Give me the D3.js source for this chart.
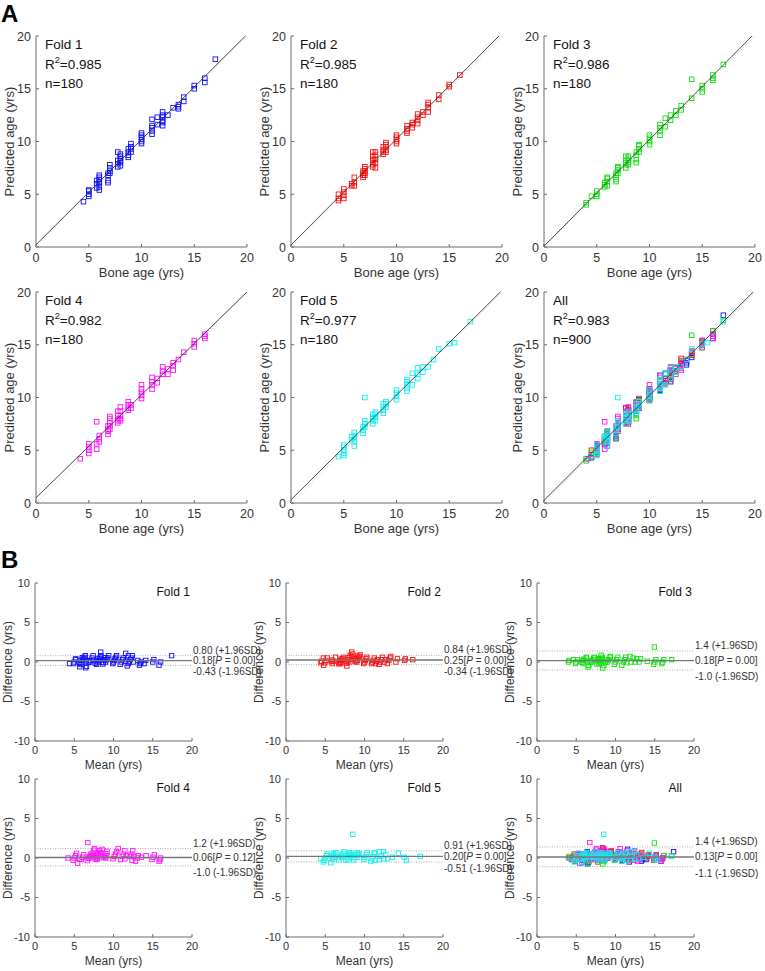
<!DOCTYPE html>
<html><head><meta charset="utf-8">
<script src="https://cdn.jsdelivr.net/npm/d3@7"></script>
<style>body{margin:0;background:#fff}svg{font-family:"Liberation Sans",Arial,Helvetica,sans-serif}</style>
</head><body><svg id="c" width="765" height="971"></svg>
<script>
// ---------- data ----------
const panelNames = ["Fold 1","Fold 2","Fold 3","Fold 4","Fold 5","All"];
const foldColors = ["#1010ff","#ff1010","#10e010","#ff10ff","#10f0f0"];
const r2Values = ["0.985","0.985","0.986","0.982","0.977","0.983"];
const nValues = [180,180,180,180,180,900];
const ticksA = [0,5,10,15,20];
const ticksBx = [0,5,10,15,20];
const ticksBy = [-10,-5,0,5,10];
// Bland-Altman statistics (upper LoA, mean, lower LoA)
const baUpper = [0.80,0.84,1.4,1.2,0.91,1.4];
const baMean  = [0.18,0.25,0.18,0.06,0.20,0.13];
const baLower = [-0.43,-0.34,-1.0,-1.0,-0.51,-1.1];
const baUpperText = ["0.80","0.84","1.4","1.2","0.91","1.4"];
const baMeanText  = ["0.18","0.25","0.18","0.06","0.20","0.13"];
const baLowerText = ["-0.43","-0.34","-1.0","-1.0","-0.51","-1.1"];
const baPText = ["0.00","0.00","0.00","0.12","0.00","0.00"];

// [bone age, [predicted ages]]
const fold1 = [[4.5,[4.3]],[5,[4.8,5.0,5.3,5.4]],[5.75,[5.6,6.0,6.3]],
 [6,[5.4,5.7,6.0,6.2,6.4,6.6,6.8]],[6.83,[6.1,6.3,6.8,7.0]],[7,[7.0,7.2,7.5,7.8]],
 [7.75,[7.6,7.9,8.2,9.0]],[8,[7.7,8.0,8.2,8.4,8.6,8.8]],[8.75,[8.5,8.7,9.0,9.3]],
 [9,[9.0,9.3,9.5,9.8]],[10,[9.8,10.0,10.2,10.4,10.6,10.8]],[11,[10.7,11.0,11.3,11.5,12.1]],
 [11.5,[11.6,12.3]],[12,[11.5,11.8,12.0,12.3,12.5,12.8]],[12.5,[12.5]],[13,[13.2]],
 [13.5,[13.1,13.3,13.5]],[14,[13.8,14.2]],[15,[15.0,15.3]],[16,[15.6,16.0]],[17,[17.8]]];
const fold2 = [[4.5,[4.4,4.6,5.0]],[5,[4.6,4.9,5.2,5.5]],[5.75,[5.8,6.0]],[6,[5.8,6.1,6.6]],
 [6.83,[6.6,6.8,7.0,7.2]],[7,[6.8,7.0,7.2,7.4,7.6]],[7.75,[7.6,7.8,8.0,8.3,8.6,9.0]],
 [8,[7.5,8.0,8.3,8.7,9.0]],[8.75,[8.8,9.0,9.2,9.5]],[9,[9.0,9.2,9.5,9.7,9.9]],
 [10,[9.8,10.0,10.2,10.4,10.6]],[11,[10.8,11.0,11.2,11.5]],[11.5,[11.3,11.6,11.8]],
 [12,[11.7,12.0,12.3,12.6]],[12.5,[12.5,12.8]],[13,[12.8,13.2,13.5,13.7]],
 [14,[14.0,14.4]],[15,[15.2,15.4]],[16,[16.3]]];
const fold3 = [[4,[4.0,4.2]],[4.5,[4.8]],[5,[4.8,5.0,5.3]],[5.75,[5.7,5.9,6.1]],
 [6,[5.8,6.2,6.5,6.6]],[6.83,[6.2,6.4,6.8,7.0]],[7,[7.0,7.3,7.5,7.6]],
 [7.75,[7.5,7.8,8.0,8.2,8.6]],[8,[7.8,8.0,8.2,8.4,8.6]],[8.75,[8.0,8.3,8.7,9.0]],
 [9,[9.0,9.3,9.6,9.7]],[10,[9.7,10.0,10.3,10.6]],[11,[10.6,11.0,11.3,11.6]],
 [11.5,[11.4,12.2]],[12,[12.0,12.5]],[12.5,[12.5,12.9]],[13,[13.0,13.4]],
 [14,[14.1,15.9]],[15,[14.7,15.0,15.3]],[16,[15.8,16.0,16.3]],[17,[17.3]]];
const fold4 = [[4.2,[4.2]],[5,[4.7,5.0,5.3,5.6]],[5.75,[5.1,5.6,7.7]],[6,[5.8,6.1,6.4]],
 [6.83,[6.5,6.8,7.0,7.3]],[7,[7.0,7.3,7.6,8.0,8.2]],[7.75,[7.6,7.8,8.0,8.3,8.7]],
 [8,[7.8,8.0,8.3,8.7,9.1]],[8.75,[8.8,9.0,9.3,9.6]],[9,[9.0,9.3]],
 [10,[9.9,10.2,10.5,10.8,11.2]],[11,[10.8,11.2,11.5,11.9]],[11.5,[11.4,11.8]],
 [12,[12.2,12.5,12.9]],[12.5,[12.2,12.7]],[13,[12.6,13.0,13.3]],[13.5,[13.6]],
 [14,[14.3]],[15,[14.8,15.1,15.4]],[16,[15.6,15.8,16.0]]];
const fold5 = [[4.5,[4.4]],[5,[4.5,4.7,5.0,5.3,5.5]],[5.75,[6.0,6.3]],[6,[5.4,5.8,6.1,6.4,6.7]],
 [6.83,[6.6,6.9,7.2]],[7,[7.2,7.5,7.8,10.0]],[7.75,[7.5,7.8,8.1,8.4]],[8,[7.8,8.1,8.4,8.6]],
 [8.75,[8.5,8.8,9.1,9.4]],[9,[9.1,9.4,9.6]],[10,[9.8,10.1,10.4,10.7]],
 [11,[10.6,10.9,11.2,11.5,11.7]],[11.5,[11.2,12.3]],[12,[11.8,12.2,12.8]],
 [12.5,[12.4,12.9]],[13,[12.9]],[13.5,[13.6]],[14,[14.6]],[15,[15.1]],[15.5,[15.2]],[17,[17.2]]];
const folds = [fold1, fold2, fold3, fold4, fold5];

// ---------- layout ----------
const svg = d3.select("#c");
const colA = [36, 291, 544], rowA = [36, 292], wA = 211, hA = 211;
const colB = [35, 286, 537], rowB = [583, 779], wB = 157, hB = 158;
const axisCol = "#6a6a6a", textCol = "#333";

function flat(fold, fi){
  const out = [];
  fold.forEach(([a, ps]) => ps.forEach(p => out.push({a, p, fi})));
  return out;
}
const pointsByFold = folds.map((f, i) => flat(f, i));
const panelPoints = [...pointsByFold, pointsByFold.flat()];

svg.append("text").attr("x", 1).attr("y", 22).attr("font-size", 24).attr("font-weight", "bold").text("A");
svg.append("text").attr("x", 1).attr("y", 568).attr("font-size", 24).attr("font-weight", "bold").text("B");

function drawAxes(g, x, y, xt, yt, fs){
  const [x0, x1] = x.range(), [y1, y0] = y.range();
  g.append("line").attr("x1", x0).attr("x2", x1).attr("y1", y1).attr("y2", y1).attr("stroke", axisCol);
  g.append("line").attr("x1", x0).attr("x2", x0).attr("y1", y0).attr("y2", y1).attr("stroke", axisCol);
  xt.forEach(t => {
    g.append("line").attr("x1", x(t)).attr("x2", x(t)).attr("y1", y1).attr("y2", y1 - 3).attr("stroke", axisCol);
    g.append("text").attr("x", x(t)).attr("y", y1 + fs + 2).attr("text-anchor", "middle")
      .attr("font-size", fs).attr("fill", textCol).text(t);
  });
  yt.forEach(t => {
    g.append("line").attr("x1", x0).attr("x2", x0 + 3).attr("y1", y(t)).attr("y2", y(t)).attr("stroke", axisCol);
    g.append("text").attr("x", x0 - 5).attr("y", y(t) + fs * 0.36).attr("text-anchor", "end")
      .attr("font-size", fs).attr("fill", textCol).text(t);
  });
}

// ---------- Panel A ----------
panelNames.forEach((name, i) => {
  const x0 = colA[i % 3], y0 = rowA[Math.floor(i / 3)];
  const x = d3.scaleLinear().domain([0, 20]).range([x0, x0 + wA]);
  const y = d3.scaleLinear().domain([0, 20]).range([y0 + hA, y0]);
  const g = svg.append("g");
  drawAxes(g, x, y, ticksA, ticksA, 12.5);
  g.append("text").attr("x", x0 + wA / 2).attr("y", y0 + hA + 30).attr("text-anchor", "middle")
    .attr("font-size", 13).attr("fill", textCol).text("Bone age (yrs)");
  g.append("text").attr("transform", `translate(${x0 - 22},${y0 + hA / 2}) rotate(-90)`)
    .attr("text-anchor", "middle").attr("font-size", 13).attr("fill", textCol).text("Predicted age (yrs)");
  const pts = panelPoints[i];
  g.append("line").attr("x1", x(0)).attr("y1", y(0)).attr("x2", x(20)).attr("y2", y(20))
    .attr("stroke", "#bbb").attr("stroke-dasharray", "1,2").attr("stroke-width", 0.8);
  const ma = d3.mean(pts, d => d.a), mp = d3.mean(pts, d => d.p);
  const slope = d3.sum(pts, d => (d.a - ma) * (d.p - mp)) / d3.sum(pts, d => (d.a - ma) ** 2);
  const icpt = mp - slope * ma;
  const xe = Math.min(20, (20 - icpt) / slope);
  g.selectAll(".pt").data(pts).join("rect")
    .attr("x", d => x(d.a) - 2.3).attr("y", d => y(d.p) - 2.3).attr("width", 4.6).attr("height", 4.6)
    .attr("fill", "none").attr("stroke", d => foldColors[d.fi]).attr("stroke-width", 0.9);
  g.append("line").attr("x1", x(0)).attr("y1", y(icpt)).attr("x2", x(xe)).attr("y2", y(icpt + slope * xe))
    .attr("stroke", "#333").attr("stroke-width", 0.9);
  const t = g.append("g").attr("font-size", 13.5).attr("fill", "#111");
  t.append("text").attr("x", x0 + 9).attr("y", y0 + 13).text(name);
  const r = t.append("text").attr("x", x0 + 9).attr("y", y0 + 33);
  r.append("tspan").text("R");
  r.append("tspan").attr("font-size", 9).attr("dy", -6).text("2");
  r.append("tspan").attr("dy", 6).text("=" + r2Values[i]);
  t.append("text").attr("x", x0 + 9).attr("y", y0 + 52).text("n=" + nValues[i]);
});

// ---------- Panel B ----------
panelNames.forEach((name, i) => {
  const x0 = colB[i % 3], y0 = rowB[Math.floor(i / 3)];
  const x = d3.scaleLinear().domain([0, 20]).range([x0, x0 + wB]);
  const y = d3.scaleLinear().domain([-10, 10]).range([y0 + hB, y0]);
  const g = svg.append("g");
  drawAxes(g, x, y, ticksBx, ticksBy, 11);
  g.append("text").attr("x", x0 + wB / 2).attr("y", y0 + hB + 28).attr("text-anchor", "middle")
    .attr("font-size", 12).attr("fill", textCol).text("Mean (yrs)");
  g.append("text").attr("transform", `translate(${x0 - 23},${y0 + hB / 2}) rotate(-90)`)
    .attr("text-anchor", "middle").attr("font-size", 12).attr("fill", textCol).text("Difference (yrs)");
  g.append("text").attr("x", x(17.6)).attr("y", y0 + 13).attr("text-anchor", "middle")
    .attr("font-size", 12).attr("fill", "#111").text(name);
  [baUpper[i], baLower[i]].forEach(v => g.append("line").attr("x1", x(0)).attr("x2", x(20))
    .attr("y1", y(v)).attr("y2", y(v)).attr("stroke", "#999").attr("stroke-dasharray", "1,1.5").attr("stroke-width", 0.8));
  const pts = panelPoints[i].map(d => ({m: (d.a + d.p) / 2, d: d.p - d.a, fi: d.fi}));
  g.selectAll(".pt").data(pts).join("rect")
    .attr("x", d => x(d.m) - 2.2).attr("y", d => y(d.d) - 2.2).attr("width", 4.4).attr("height", 4.4)
    .attr("fill", "none").attr("stroke", d => foldColors[d.fi]).attr("stroke-width", 0.9);
  g.append("line").attr("x1", x(0)).attr("x2", x(20)).attr("y1", y(baMean[i])).attr("y2", y(baMean[i]))
    .attr("stroke", "#777").attr("stroke-width", 1.4);
  const tx = x(20) + 1, fs = 10;
  g.append("text").attr("x", tx).attr("y", y(baUpper[i]) - 2).attr("font-size", fs).attr("fill", textCol)
    .text(baUpperText[i] + " (+1.96SD)");
  const mt = g.append("text").attr("x", tx).attr("y", y(baMean[i]) + 3.5).attr("font-size", fs).attr("fill", textCol);
  mt.append("tspan").text(baMeanText[i] + "[");
  mt.append("tspan").attr("font-style", "italic").text("P");
  mt.append("tspan").text(" = " + baPText[i] + "]");
  g.append("text").attr("x", tx).attr("y", y(baLower[i]) + 10).attr("font-size", fs).attr("fill", textCol)
    .text(baLowerText[i] + " (-1.96SD)");
});
</script></body></html>
